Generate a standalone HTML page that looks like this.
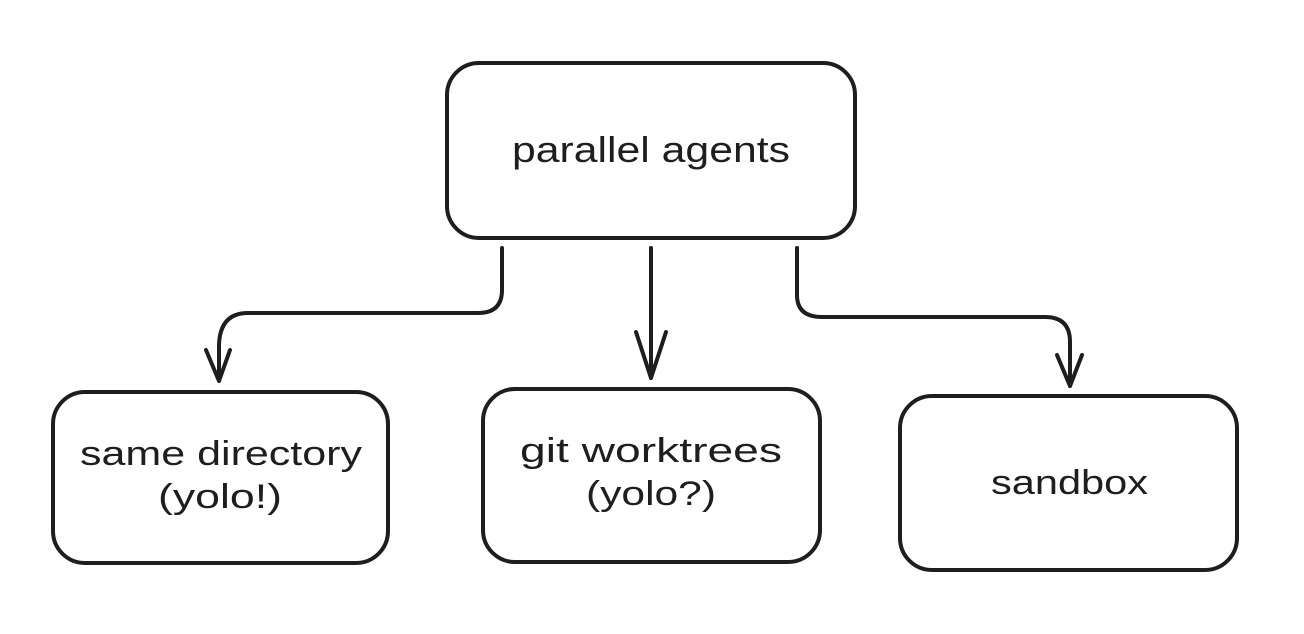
<!DOCTYPE html>
<html><head><style>
html,body{margin:0;padding:0;background:#fff;}
svg{display:block;}
text{font-family:"Comic Sans MS","Liberation Sans",sans-serif;fill:#1e1e1e;}
</style></head><body>
<svg width="1304" height="634" viewBox="0 0 1304 634" xmlns="http://www.w3.org/2000/svg">
<g fill="none" stroke="#1e1e1e" stroke-width="4" stroke-linecap="round" stroke-linejoin="round">
<rect x="447" y="63" width="408" height="175" rx="32"/>
<rect x="53" y="392" width="335" height="171" rx="32"/>
<rect x="483" y="389" width="337" height="173" rx="32"/>
<rect x="900" y="396" width="337" height="174" rx="32"/>
<path d="M502 248 L502 290 Q502 313 478 313 L248 313 Q220 313 219 345 L219 380"/>
<path d="M206 350 L219 381 L230 350"/>
<path d="M651 248 L651 378"/>
<path d="M636 332 L651 378 L666 332"/>
<path d="M797 248 L797 295 Q797 317 822 317 L1045 317 Q1070 317 1070 342 L1070 386"/>
<path d="M1057 355 L1070 386 L1082 355"/>
</g>
<text x="512" y="162" font-size="36" textLength="278" lengthAdjust="spacingAndGlyphs">parallel agents</text>
<text x="80" y="465" font-size="34" textLength="282" lengthAdjust="spacingAndGlyphs">same directory</text>
<text x="158" y="508" font-size="34" textLength="124" lengthAdjust="spacingAndGlyphs">(yolo!)</text>
<text x="520" y="462" font-size="34" textLength="262" lengthAdjust="spacingAndGlyphs">git worktrees</text>
<text x="586" y="505" font-size="34" textLength="130" lengthAdjust="spacingAndGlyphs">(yolo?)</text>
<text x="991" y="494" font-size="34" textLength="157" lengthAdjust="spacingAndGlyphs">sandbox</text>
</svg>
</body></html>
